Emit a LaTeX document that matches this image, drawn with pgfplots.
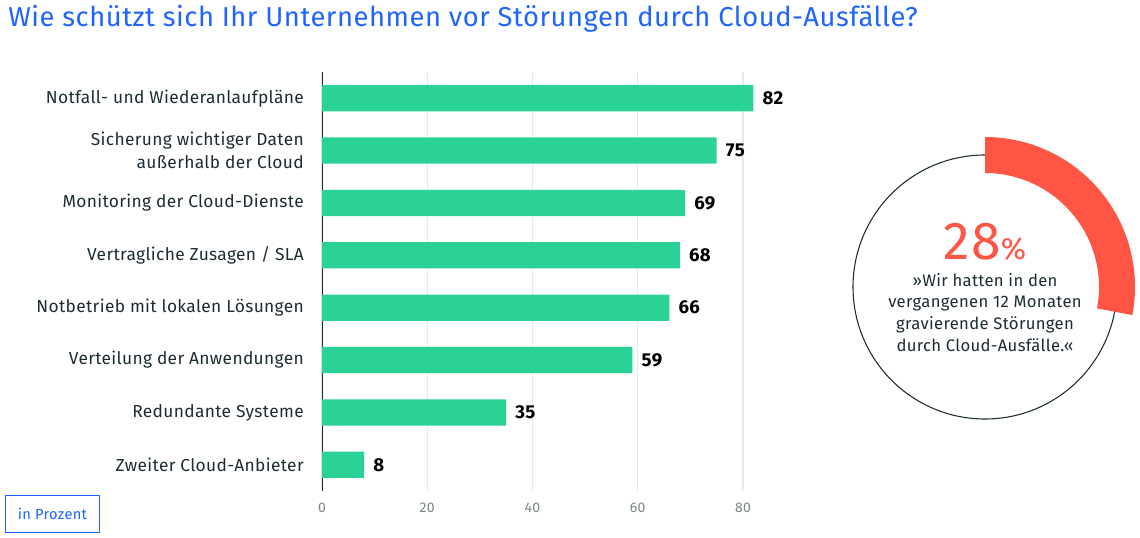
\documentclass[border=0pt]{standalone}
\usepackage{pgfplots}
\pgfplotsset{compat=1.18}
\usepackage{pgfplotstable}
\usepackage{fontspec}
\setmainfont[LetterSpace=2]{Fira Sans}

\definecolor{barGreen}{RGB}{42,210,150}
\definecolor{titleBlue}{RGB}{30,100,255}
\definecolor{gaugeRed}{RGB}{255,85,68}
\definecolor{labelDark}{RGB}{28,44,50}
\definecolor{tickGrey}{RGB}{120,135,135}
\definecolor{gridGrey}{RGB}{228,234,234}

% share of respondents per measure, in percent
\pgfplotstableread{
idx value
0 82
1 75
2 69
3 68
4 66
5 59
6 35
7 8
}\measures

% share of companies with serious disruptions
\newcommand\disrupted{28}

\begin{document}
\begin{tikzpicture}[x=0.75pt,y=0.75pt]
\path[use as bounding box] (0,0) rectangle (1140,537);
\coordinate (plotcorner) at (322,46);

\node[anchor=base west, inner sep=0pt, text=titleBlue,
      font=\fontsize{20.5}{24}\selectfont] at (8,510)
  {Wie schützt sich Ihr Unternehmen vor Störungen durch Cloud-Ausfälle?};

\begin{axis}[
  at={(plotcorner)}, anchor=south west,
  scale only axis, width=323.6pt, height=314.25pt,
  xbar, bar width=0.5,
  xmin=0, xmax=82, ymin=-0.5, ymax=7.5, y dir=reverse,
  clip=false,
  axis x line*=bottom, axis y line*=left,
  x axis line style={draw=none},
  y axis line style={draw=labelDark, line width=0.6pt},
  xtick={0,20,40,60,80}, ytick={0,...,7},
  major tick length=0pt,
  xmajorgrids, grid style={gridGrey, line width=0.9pt},
  xticklabel style={text=tickGrey, font=\fontsize{10.5}{12}\selectfont,
                    inner sep=0pt, yshift=-9pt},
  /pgf/number format/assume math mode=true,
  yticklabels={Notfall- und Wiederanlaufpläne,
               {Sicherung wichtiger Daten\\außerhalb der Cloud},
               Monitoring der Cloud-Dienste,
               Vertragliche Zusagen / SLA,
               Notbetrieb mit lokalen Lösungen,
               Verteilung der Anwendungen,
               Redundante Systeme,
               Zweiter Cloud-Anbieter},
  yticklabel style={text=labelDark, align=right, inner sep=0pt, xshift=-13.5pt,
                    font=\fontsize{13}{17}\selectfont},
  nodes near coords,
  every node near coord/.append style={anchor=west, inner sep=0pt, xshift=6.75pt,
                    font=\fontsize{14}{16}\selectfont\bfseries, text=black},
]
\addplot[fill=barGreen, draw=none] table[x=value, y=idx] {\measures};
\end{axis}

% gauge ring
\begin{scope}[shift={(985,250)}]
  \draw[labelDark, line width=0.8pt] (0,0) circle[radius=132];
  \fill[gaugeRed] (90:150) arc[start angle=90, end angle={90-3.6*\disrupted}, radius=150]
    -- ({90-3.6*\disrupted}:114) arc[start angle={90-3.6*\disrupted}, end angle=90, radius=114]
    -- cycle;
  \node[text=gaugeRed, inner sep=0pt, anchor=base] at (0,28)
    {\fontsize{40}{42}\selectfont\disrupted\fontsize{23}{25}\selectfont\%};
  \node[text=labelDark, align=center, inner sep=0pt, anchor=north,
        font=\fontsize{12.5}{16.2}\selectfont] at (0,14)
    {»Wir hatten in den\\vergangenen 12 Monaten\\gravierende Störungen\\durch Cloud-Ausfälle.«};
\end{scope}

% unit box
\node[draw=titleBlue, line width=0.9pt, text=titleBlue, inner sep=0pt,
      minimum width=71pt, minimum height=28pt,
      font=\fontsize{11}{13}\selectfont] at (52.5,23) {in Prozent};
\end{tikzpicture}
\end{document}
